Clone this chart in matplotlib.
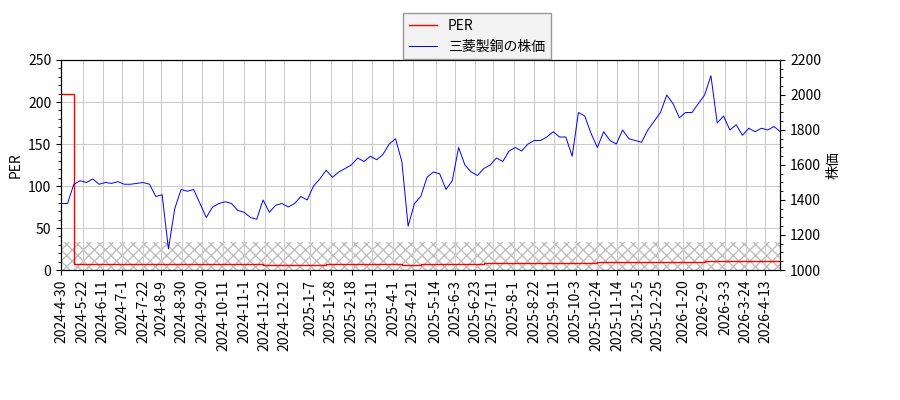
import matplotlib
matplotlib.use("Agg")
import matplotlib.pyplot as plt
import numpy as np
import pandas as pd

plt.rcParams['font.family'] = ['Noto Sans CJK JP', 'DejaVu Sans']

price = [1380,1380,1490,1510,1500,1520,1490,1500,1495,1505,1490,1490,1495,1500,1490,1420,1430,
         1120,1350,1460,1450,1460,1380,1300,1360,1380,1390,1380,1340,1330,1300,1290,1400,1330,1370,
         1380,1360,1380,1420,1400,1480,1520,1570,1530,1560,1580,1600,1640,1620,1650,1630,1660,1720,
         1750,1620,1250,1380,1420,1530,1560,1550,1460,1510,1700,1600,1560,1540,1580,1600,1640,1620,
         1680,1700,1680,1720,1740,1740,1760,1790,1760,1760,1650,1900,1880,1780,1700,1790,1740,1720,
         1800,1750,1740,1730,1800,1850,1900,2000,1950,1870,1900,1900,1950,2000,2110,1840,1880,1800,
         1830,1770,1810,1790,1810,1800,1820,1790]
n = len(price)
dates = pd.date_range("2024-04-30", "2026-04-28", periods=n)
per = [210, 210] + [7.0]*30 + [6.0]*10 + [7.0]*12 + [6.0]*3 + [7.0]*10 + [8.0]*18 + [9.0]*10 + [10.0]*7 + [11.0]*7
per = (per + [10.5]*n)[:n]

tick_labels = ["2024-4-30","2024-5-22","2024-6-11","2024-7-1","2024-7-22","2024-8-9","2024-8-30",
               "2024-9-20","2024-10-11","2024-11-1","2024-11-22","2024-12-12","2025-1-7","2025-1-28",
               "2025-2-18","2025-3-11","2025-4-1","2025-4-21","2025-5-14","2025-6-3","2025-6-23",
               "2025-7-11","2025-8-1","2025-8-22","2025-9-11","2025-10-3","2025-10-24","2025-11-14",
               "2025-12-5","2025-12-25","2026-1-20","2026-2-9","2026-3-3","2026-3-24","2026-4-13"]

fig = plt.figure(figsize=(9, 4), dpi=100)
ax = fig.add_axes([0.068, 0.325, 0.799, 0.525])
ax2 = ax.twinx()
l1, = ax.step(dates, per, where='post', color='red', lw=1, label='PER')
l2, = ax2.plot(dates, price, color='blue', lw=0.7, label='三菱製銅の株価')
ax.axhspan(0, 33, facecolor='none', edgecolor='gray', hatch='xxx', lw=0, alpha=0.5)
ax.set_ylim(0, 250)
ax2.set_ylim(1000, 2200)
ax.set_xlim(dates[0], dates[-1])
ax.set_xticks(pd.to_datetime(tick_labels))
ax.set_xticklabels(tick_labels, rotation=90)
ax.grid(True, color='#cccccc')
ax.set_ylabel('PER')
ax2.set_ylabel('株価')
ax.yaxis.set_minor_locator(plt.MultipleLocator(10))
ax2.yaxis.set_minor_locator(plt.MultipleLocator(50))
fig.legend([l1, l2], ['PER', '三菱製銅の株価'], loc='upper center', bbox_to_anchor=(0.53, 0.985),
           fancybox=False, edgecolor='gray', facecolor='#f0f0f0')
fig.savefig("out.png")
